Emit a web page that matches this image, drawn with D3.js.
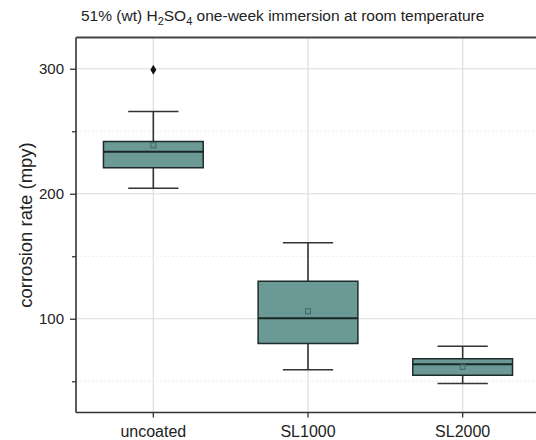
<!DOCTYPE html>
<html><head><meta charset="utf-8">
<script src="https://cdn.jsdelivr.net/npm/d3@7"></script>
<style>body{margin:0;background:#fff;} svg{display:block;font-family:"Liberation Sans",Arial,sans-serif;}</style>
</head><body>
<script>
const categories = ["uncoated", "SL1000", "SL2000"];
const whiskerLow  = [204.4, 59.2, 48.2];
const q1          = [220.8, 80.2, 54.8];
const median      = [233.6, 100.4, 63.6];
const q3          = [241.8, 130.0, 68.0];
const whiskerHigh = [265.8, 160.8, 78.0];
const means       = [238.8, 106.0, 61.6];
const outliers    = [[299.2], [], []];
const majorTicks  = [100, 200, 300];
const minorTicks  = [50, 150, 250];

const W = 536, H = 440;
const m = {left: 76, top: 37.5, right: 540, bottom: 412.5};
const svg = d3.select("body").append("svg").attr("width", W).attr("height", H);

const x = d3.scaleBand().domain(categories).range([m.left, m.right]).padding(0);
const y = d3.scaleLinear().domain([25, 325]).range([m.bottom, m.top]);
const bw = x.bandwidth() * 0.645, capW = x.bandwidth() * 0.325;
const data = categories.map((c, i) => ({c, lo: whiskerLow[i], q1: q1[i], med: median[i], q3: q3[i], hi: whiskerHigh[i], mean: means[i], out: outliers[i]}));

// grid
const g = svg.append("g");
g.selectAll(".gx").data(categories).join("line")
  .attr("x1", d => x(d) + x.bandwidth()/2).attr("x2", d => x(d) + x.bandwidth()/2)
  .attr("y1", m.top).attr("y2", m.bottom).attr("stroke", "#dcdcdc").attr("stroke-width", 1.2);
g.selectAll(".gy").data(majorTicks).join("line")
  .attr("x1", m.left).attr("x2", m.right).attr("y1", d => y(d)).attr("y2", d => y(d))
  .attr("stroke", "#dcdcdc").attr("stroke-width", 1.2);
g.selectAll(".gym").data(minorTicks).join("line")
  .attr("x1", m.left).attr("x2", m.right).attr("y1", d => y(d)).attr("y2", d => y(d))
  .attr("stroke", "#ececec").attr("stroke-width", 1).attr("stroke-dasharray", "2,2");

// boxes
const bx = svg.append("g").selectAll("g").data(data).join("g")
  .attr("transform", d => `translate(${x(d.c) + x.bandwidth()/2},0)`);
bx.append("line").attr("x1", 0).attr("x2", 0).attr("y1", d => y(d.hi)).attr("y2", d => y(d.q3)).attr("stroke", "#333").attr("stroke-width", 1.6);
bx.append("line").attr("x1", 0).attr("x2", 0).attr("y1", d => y(d.q1)).attr("y2", d => y(d.lo)).attr("stroke", "#333").attr("stroke-width", 1.6);
bx.append("line").attr("x1", -capW/2).attr("x2", capW/2).attr("y1", d => y(d.hi)).attr("y2", d => y(d.hi)).attr("stroke", "#333").attr("stroke-width", 1.6);
bx.append("line").attr("x1", -capW/2).attr("x2", capW/2).attr("y1", d => y(d.lo)).attr("y2", d => y(d.lo)).attr("stroke", "#333").attr("stroke-width", 1.6);
bx.append("rect").attr("x", -bw/2).attr("width", bw).attr("y", d => y(d.q3)).attr("height", d => y(d.q1) - y(d.q3))
  .attr("fill", "#6b9a96").attr("stroke", "#1f2b2b").attr("stroke-width", 1.5);
bx.append("line").attr("x1", -bw/2).attr("x2", bw/2).attr("y1", d => y(d.med)).attr("y2", d => y(d.med)).attr("stroke", "#1a2424").attr("stroke-width", 2);
bx.append("rect").attr("x", -2.5).attr("width", 5).attr("y", d => y(d.mean) - 2.5).attr("height", 5)
  .attr("fill", "none").attr("stroke", "#3f6663").attr("stroke-width", 1);
bx.each(function(d) {
  d3.select(this).selectAll("path.o").data(d.out).join("path")
    .attr("d", d3.symbol(d3.symbolDiamond, 30)).attr("transform", v => `translate(0,${y(v)})`).attr("fill", "#111");
});

// axes
const ya = svg.append("g").attr("transform", `translate(${m.left},0)`)
  .call(d3.axisLeft(y).tickValues(majorTicks).tickSize(6).tickPadding(6).tickFormat(d3.format("d")));
svg.append("g").attr("transform", `translate(${m.left},0)`)
  .call(d3.axisLeft(y).tickValues(minorTicks).tickSize(4).tickFormat(""))
  .call(s => s.select(".domain").remove());
const xa = svg.append("g").attr("transform", `translate(0,${m.bottom})`)
  .call(d3.axisBottom(x).tickSize(5).tickPadding(8.5));
svg.selectAll(".tick line").attr("stroke", "#333").attr("stroke-width", 1.3);
svg.selectAll(".domain").attr("stroke", "#333").attr("stroke-width", 1.6);
ya.selectAll("text").attr("font-size", 15).attr("fill", "#222").attr("font-family", "Liberation Sans, Arial");
xa.selectAll("text").attr("font-size", 16).attr("fill", "#222").attr("font-family", "Liberation Sans, Arial");
xa.select(".domain").attr("d", `M${m.left},0H${m.right}`);
ya.select(".domain").attr("d", `M0,${m.bottom}V${m.top}`);
// top frame
svg.append("line").attr("x1", m.left).attr("x2", m.right).attr("y1", m.top).attr("y2", m.top).attr("stroke", "#444").attr("stroke-width", 1.8);

// y title
svg.append("text").attr("transform", `translate(32,${(m.top + m.bottom)/2}) rotate(-90)`)
  .attr("text-anchor", "middle").attr("font-size", 18.5).attr("fill", "#222").text("corrosion rate (mpy)");

// title
const t = svg.append("text").attr("x", 81).attr("y", 21).attr("font-size", 15.5).attr("fill", "#222");
t.append("tspan").text("51% (wt) H");
t.append("tspan").attr("font-size", 11).attr("dy", 3.5).text("2");
t.append("tspan").attr("dy", -3.5).text("SO");
t.append("tspan").attr("font-size", 11).attr("dy", 3.5).text("4");
t.append("tspan").attr("dy", -3.5).text(" one-week immersion at room temperature");
</script>
</body></html>
